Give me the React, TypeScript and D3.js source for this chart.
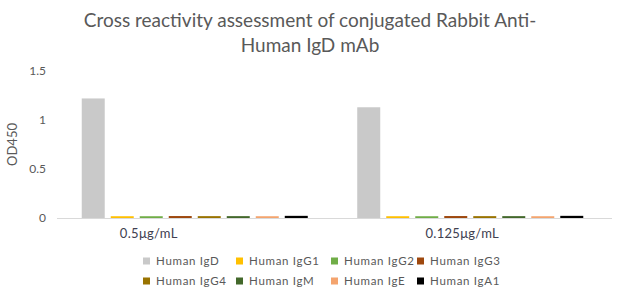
import React from "react";
import * as d3 from "d3";

const groups = ["0.5μg/mL", "0.125μg/mL"];
const series = [
  "Human IgD",
  "Human IgG1",
  "Human IgG2",
  "Human IgG3",
  "Human IgG4",
  "Human IgM",
  "Human IgE",
  "Human IgA1",
];
const colors = [
  "#c9c9c9",
  "#ffc000",
  "#70ad47",
  "#9e480e",
  "#997300",
  "#43682b",
  "#f4a46e",
  "#000000",
];
// OD450 readings per series, one value per concentration
const valuesLow = [1.22, 0.018, 0.018, 0.02, 0.019, 0.019, 0.018, 0.022];
const valuesHigh = [1.13, 0.018, 0.018, 0.02, 0.019, 0.019, 0.018, 0.022];
const yTicks = [0, 0.5, 1, 1.5];

const W = 620;
const H = 295;
const FONT = "Lato, 'Open Sans', sans-serif";

export default function App() {
  const left = 57;
  const right = 608;
  const top = 71;
  const bottom = 218;

  const y = d3.scaleLinear().domain([0, 1.5]).range([bottom, top]);
  const x0 = d3.scaleBand<string>().domain(groups).range([left, right]).padding(0);
  const x1 = d3
    .scaleBand<string>()
    .domain(series)
    .range([0, x0.bandwidth()])
    .paddingInner(0.207)
    .paddingOuter(0.853);

  const data = [valuesLow, valuesHigh];
  const labelShift = [-46, -8];
  const legendCols = [143, 236, 331, 417];

  return (
    <svg
      width={W}
      height={H}
      style={{ position: "absolute", left: 0, top: 0, background: "#fff" }}
      fontFamily={FONT}
    >
      <text x={310} y={27} textAnchor="middle" fontSize={19} fill="#595959">
        Cross reactivity assessment of conjugated Rabbit Anti-
      </text>
      <text x={310} y={52} textAnchor="middle" fontSize={19} fill="#595959">
        Human IgD mAb
      </text>

      {yTicks.map((t) => (
        <text
          key={t}
          x={46}
          y={y(t)}
          dy="0.35em"
          textAnchor="end"
          fontSize={12}
          fill="#595959"
        >
          {d3.format("~g")(t)}
        </text>
      ))}
      <text
        transform={`translate(17,${(top + bottom) / 2}) rotate(-90)`}
        textAnchor="middle"
        fontSize={13}
        fill="#595959"
      >
        OD450
      </text>

      {groups.map((g, gi) => (
        <g key={g} transform={`translate(${x0(g)},0)`}>
          {series.map((s, si) => {
            const v = data[gi][si];
            return (
              <rect
                key={s}
                x={x1(s)}
                y={y(v)}
                width={x1.bandwidth()}
                height={bottom - y(v)}
                fill={colors[si]}
              />
            );
          })}
        </g>
      ))}

      <line x1={left} x2={612} y1={bottom + 0.5} y2={bottom + 0.5} stroke="#d9d9d9" strokeWidth={1} />

      {groups.map((g, gi) => (
        <text
          key={g}
          x={(x0(g) as number) + x0.bandwidth() / 2 + labelShift[gi]}
          y={238}
          textAnchor="middle"
          fontSize={13}
          letterSpacing={0.3}
          fill="#404050"
        >
          {g}
        </text>
      ))}

      {series.map((s, i) => {
        const col = i % 4;
        const row = Math.floor(i / 4);
        const cx = legendCols[col];
        const cy = 261 + row * 20;
        return (
          <g key={s}>
            <rect x={cx} y={cy - 3.5} width={7} height={7} fill={colors[i]} />
            <text
              x={cx + 13}
              y={cy}
              dy="0.35em"
              fontSize={11.5}
              letterSpacing={0.7}
              fill="#595959"
            >
              {s}
            </text>
          </g>
        );
      })}
    </svg>
  );
}
